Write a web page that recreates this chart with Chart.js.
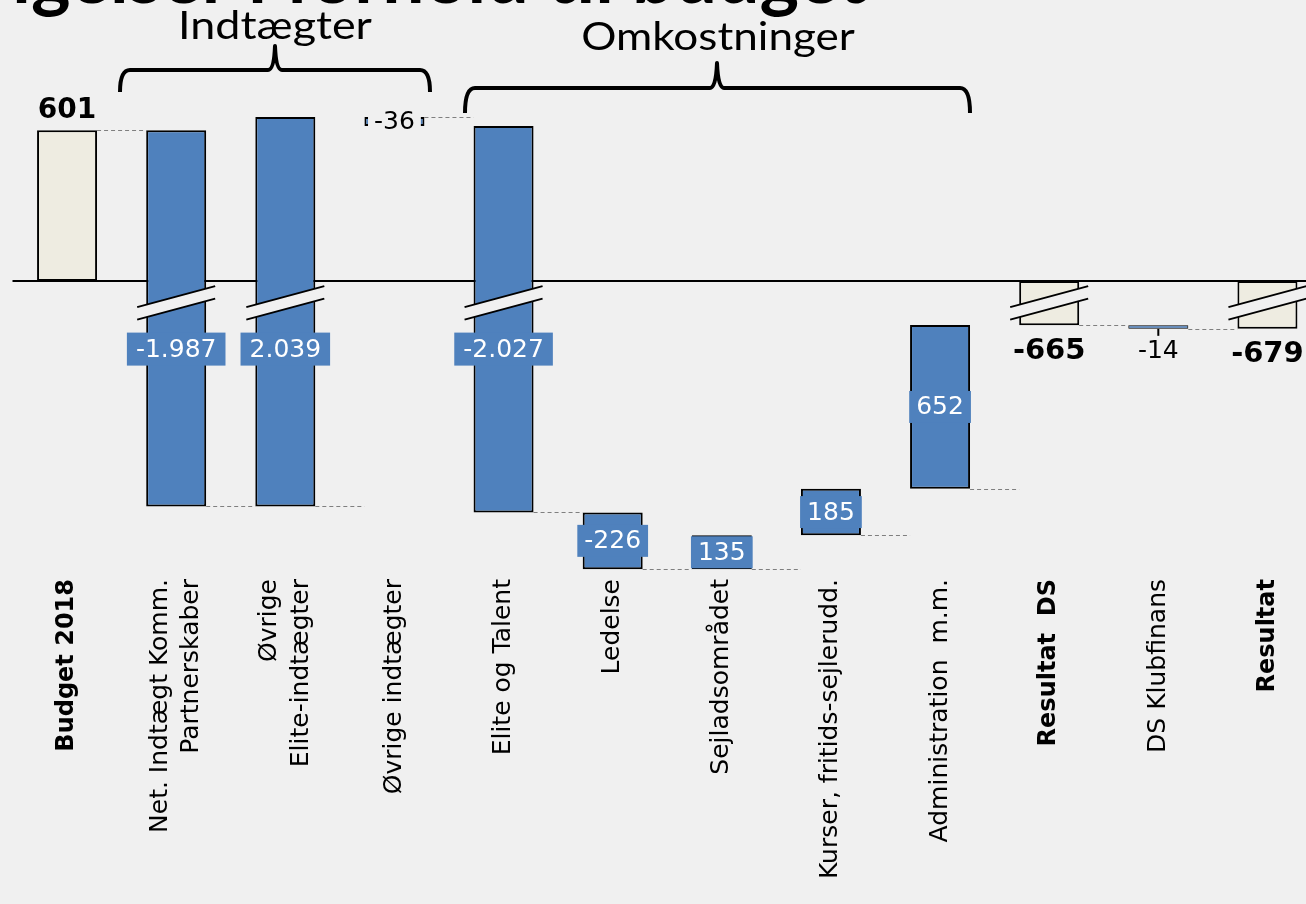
<!DOCTYPE html>
<html>
<head>
<meta charset="utf-8">
<script src="https://cdn.jsdelivr.net/npm/chart.js@4"></script>
<style>
  html, body { margin: 0; padding: 0; background: #f0f0f0; overflow: hidden; }
  #wrap { position: relative; width: 1322px; height: 904px; }
</style>
</head>
<body>
<div id="wrap"><canvas id="chart" width="1322" height="904"></canvas></div>
<script>
// categories (two-line labels as arrays)
const categories = [
  'Budget 2018',
  ['Net. Indtægt Komm.', 'Partnerskaber'],
  ['Øvrige', 'Elite-indtægter'],
  'Øvrige indtægter',
  'Elite og Talent',
  'Ledelse',
  'Sejladsområdet',
  'Kurser, fritids-sejlerudd.',
  'Administration  m.m.',
  'Resultat  DS',
  'DS Klubfinans',
  'Resultat'
];
// change per step, totals start from zero
const values = [601, -1987, 2039, -36, -2027, -226, 135, 185, 652, -665, -14, -679];
const totals = [true, false, false, false, false, false, false, false, false, true, false, true];
const valueLabels = ['601', '-1.987', '2.039', '-36', '-2.027', '-226', '135', '185', '652', '-665', '-14', '-679'];
const groupNames = ['Indtægter', 'Omkostninger'];

const BLUE = '#4f81bd';
const TAN = '#eeece1';
const BG = '#f0f0f0';
const FONT = '"DejaVu Sans", sans-serif';
const LABEL_SIZE = 25;
const LINE_H = 1.26;

// the value axis is broken just below zero: this many units are cut out
const BREAK_GAP = 489;
const squash = v => (v < 0 ? v + BREAK_GAP : v);

let level = 0;
const steps = values.map((v, i) => {
  const from = totals[i] ? 0 : level;
  level = totals[i] ? v : level + v;
  return [from, level];
});
const isBroken = steps.map(s => Math.min(...s) < 0 && Math.max(...s) >= 0);

function box(ctx, text, cx, cy, fill, color, font, padX, h) {
  ctx.font = font;
  const w = ctx.measureText(text).width + padX * 2;
  ctx.fillStyle = fill;
  ctx.fillRect(cx - w / 2, cy - h / 2, w, h);
  ctx.fillStyle = color;
  ctx.textAlign = 'center';
  ctx.textBaseline = 'middle';
  ctx.fillText(text, cx, cy + 1);
}

function brace(ctx, x1, x2, cx, y, yEnd, yTip) {
  ctx.beginPath();
  ctx.moveTo(x1, yEnd);
  ctx.quadraticCurveTo(x1, y, x1 + 10, y);
  ctx.lineTo(cx - 7, y);
  ctx.quadraticCurveTo(cx - 1, y, cx, yTip);
  ctx.quadraticCurveTo(cx + 1, y, cx + 7, y);
  ctx.lineTo(x2 - 10, y);
  ctx.quadraticCurveTo(x2, y, x2, yEnd);
  ctx.stroke();
}

// narrow-ish heading text stretched a little sideways
function stretchedText(ctx, text, cx, y, sx) {
  ctx.save();
  ctx.translate(cx, y);
  ctx.scale(sx, 1);
  ctx.fillText(text, 0, 0);
  ctx.restore();
}

const waterfallExtras = {
  id: 'waterfallExtras',
  beforeDraw(chart) {
    // center the two-line category labels on their tick
    const sx = chart.scales.x;
    sx.getLabelItems().forEach(item => {
      if (Array.isArray(item.label) && !item._moved) {
        item.options.translation[0] -= LABEL_SIZE * LINE_H / 2;
        item._moved = true;
      }
    });
  },
  beforeDatasetsDraw(chart) {
    const ctx = chart.ctx;
    const y0 = chart.scales.y.getPixelForValue(0);
    const bars = chart.getDatasetMeta(0).data;
    ctx.save();
    // zero line
    ctx.strokeStyle = '#000';
    ctx.lineWidth = 2;
    ctx.beginPath();
    ctx.moveTo(chart.chartArea.left, y0);
    ctx.lineTo(chart.width, y0);
    ctx.stroke();
    // connectors
    ctx.strokeStyle = '#7f7f7f';
    ctx.lineWidth = 1;
    ctx.setLineDash([4, 3]);
    for (let i = 0; i < bars.length - 1; i++) {
      const a = bars[i], b = bars[i + 1];
      const y = Math.round(a.y) + 0.5;
      ctx.beginPath();
      ctx.moveTo(a.x + a.width / 2, y);
      ctx.lineTo(b.x - b.width / 2, y);
      ctx.stroke();
    }
    ctx.restore();
  },
  afterDatasetsDraw(chart) {
    const ctx = chart.ctx;
    const y0 = chart.scales.y.getPixelForValue(0);
    const bars = chart.getDatasetMeta(0).data;
    ctx.save();
    // axis break marks
    bars.forEach((el, i) => {
      if (!isBroken[i]) return;
      const l = el.x - 39, r = el.x + 39;
      const gap = 12.5;
      ctx.fillStyle = BG;
      ctx.beginPath();
      ctx.moveTo(l, y0 + 26);
      ctx.lineTo(r, y0 + 5);
      ctx.lineTo(r, y0 + 5 + gap);
      ctx.lineTo(l, y0 + 26 + gap);
      ctx.closePath();
      ctx.fill();
      ctx.strokeStyle = '#000';
      ctx.lineWidth = 2;
      ctx.beginPath();
      ctx.moveTo(l, y0 + 26); ctx.lineTo(r, y0 + 5);
      ctx.moveTo(l, y0 + 26 + gap); ctx.lineTo(r, y0 + 5 + gap);
      ctx.stroke();
    });
    // value labels
    const plain = `${LABEL_SIZE}px ${FONT}`;
    bars.forEach((el, i) => {
      const top = Math.min(el.y, el.base), bottom = Math.max(el.y, el.base);
      const text = valueLabels[i];
      ctx.textAlign = 'center';
      if (totals[i]) {
        ctx.fillStyle = '#000';
        if (values[i] >= 0) {
          ctx.font = `bold 28px ${FONT}`;
          ctx.textBaseline = 'alphabetic';
          ctx.fillText(text, el.x, top - 12);
        } else {
          ctx.font = `bold 29px ${FONT}`;
          ctx.textBaseline = 'middle';
          ctx.fillText(text, el.x, bottom + 26);
        }
      } else if (isBroken[i]) {
        box(ctx, text, el.x, y0 + 68, BLUE, '#fff', plain, 9, 33);
      } else if (bottom - top < 12) {
        if (top < y0) {
          box(ctx, text, el.x, (top + bottom) / 2, BG, '#000', plain, 6, 30);
        } else {
          ctx.strokeStyle = '#000';
          ctx.lineWidth = 2;
          ctx.beginPath();
          ctx.moveTo(el.x, bottom);
          ctx.lineTo(el.x, bottom + 7);
          ctx.stroke();
          ctx.fillStyle = '#000';
          ctx.font = plain;
          ctx.textBaseline = 'middle';
          ctx.fillText(text, el.x, bottom + 23);
        }
      } else {
        box(ctx, text, el.x, (top + bottom) / 2, BLUE, '#fff', plain, 7, 32);
      }
    });
    ctx.restore();
  },
  afterDraw(chart) {
    const ctx = chart.ctx;
    ctx.save();
    // slide title, mostly above the visible area
    ctx.fillStyle = '#000';
    ctx.font = 'bold 75px Lato, sans-serif';
    ctx.textAlign = 'right';
    ctx.textBaseline = 'alphabetic';
    ctx.fillText('Afvigelser i forhold til budget', 866, 3);
    // group braces and names
    ctx.strokeStyle = '#000';
    ctx.lineWidth = 4;
    ctx.lineCap = 'butt';
    ctx.lineJoin = 'round';
    brace(ctx, 120, 430, 275, 70, 92, 46);
    brace(ctx, 465, 970, 717, 88, 113, 63);
    ctx.font = '39px Lato, sans-serif';
    ctx.textAlign = 'center';
    stretchedText(ctx, groupNames[0], 275, 39, 1.15);
    stretchedText(ctx, groupNames[1], 718, 50, 1.13);
    ctx.restore();
  }
};

new Chart(document.getElementById('chart').getContext('2d'), {
  type: 'bar',
  data: {
    labels: categories,
    datasets: [{
      data: steps.map(s => s.map(squash)),
      backgroundColor: totals.map(t => (t ? TAN : BLUE)),
      borderColor: '#000',
      // very thin bars keep a hairline so the fill still shows
      borderWidth: c => (Math.abs(values[c.dataIndex]) < 20 ? 1 : 2),
      borderSkipped: false,
      barPercentage: 0.55,
      categoryPercentage: 1
    }]
  },
  options: {
    responsive: false,
    animation: false,
    devicePixelRatio: 1,
    layout: { padding: { left: 12.5, right: 0, top: 0, bottom: 0 } },
    plugins: { legend: { display: false }, tooltip: { enabled: false } },
    scales: {
      x: {
        grid: { display: false, drawTicks: false },
        border: { display: false },
        ticks: {
          autoSkip: false,
          minRotation: 90,
          maxRotation: 90,
          padding: 7,
          color: '#000',
          font: c => ({
            family: FONT,
            size: totals[c.index] ? 24 : LABEL_SIZE,
            weight: totals[c.index] ? 'bold' : 'normal',
            lineHeight: LINE_H
          })
        },
        afterFit: s => { s.height = 904 - 572; }
      },
      y: { display: false, min: -1158, max: 1119 }
    }
  },
  plugins: [waterfallExtras]
});
</script>
</body>
</html>
